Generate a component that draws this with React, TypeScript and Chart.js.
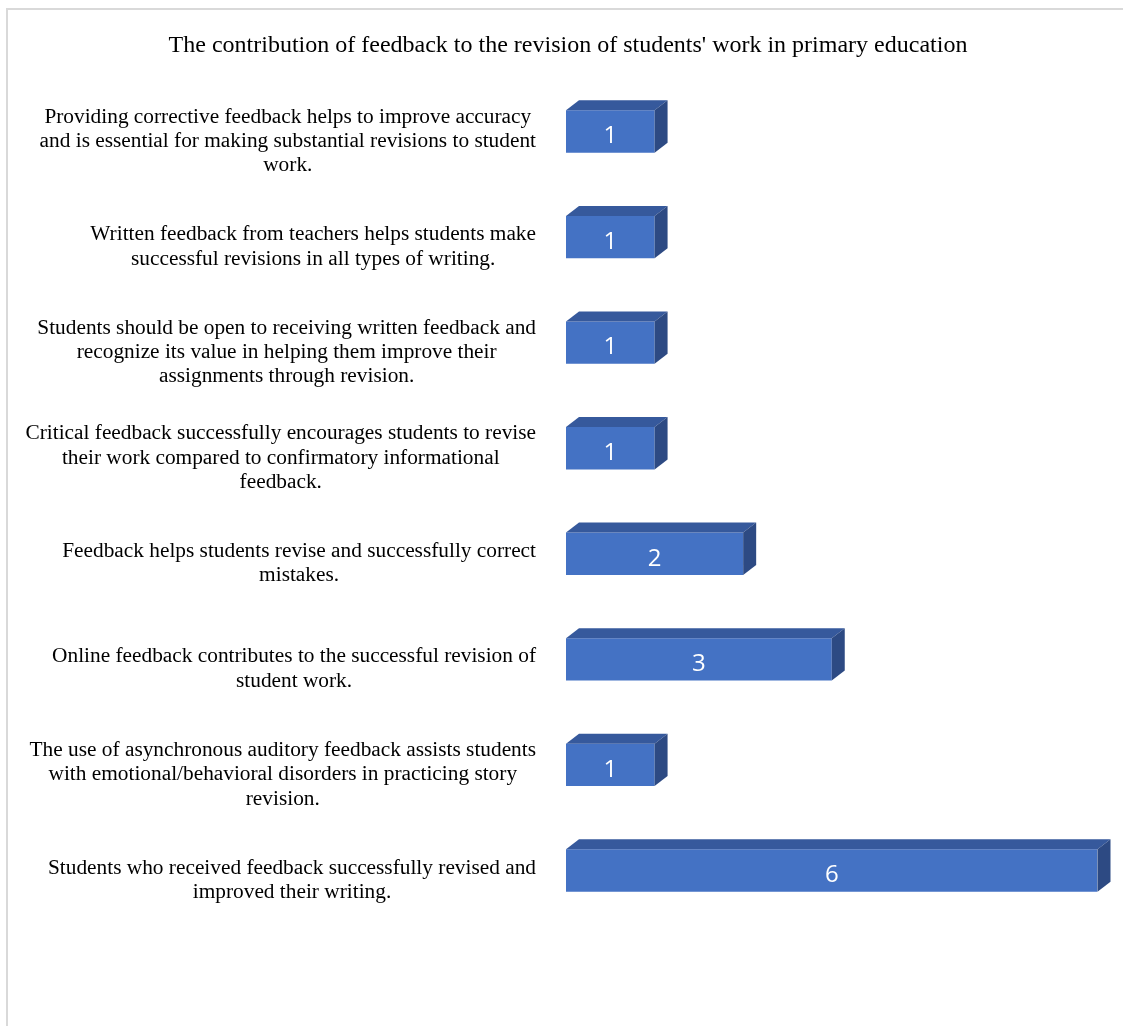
import React, { useEffect, useRef } from "react";
import { Chart, registerables } from "chart.js";

Chart.register(...registerables);

const TITLE = "The contribution of feedback to the revision of students' work in primary education";

const categories: string[][] = [
  ["Providing corrective feedback helps to improve accuracy", "and is essential for making substantial revisions to student", "work."],
  ["Written feedback from teachers helps students make", "successful revisions in all types of writing."],
  ["Students should be open to receiving written feedback and", "recognize its value in helping them improve their", "assignments through revision."],
  ["Critical feedback successfully encourages students to revise", "their work compared to confirmatory informational", "feedback."],
  ["Feedback helps students revise and successfully correct", "mistakes."],
  ["Online feedback contributes to the successful revision of", "student work."],
  ["The use of asynchronous auditory feedback assists students", "with emotional/behavioral disorders in practicing story", "revision."],
  ["Students who received feedback successfully revised and", "improved their writing."],
];

const values: number[] = [1, 1, 1, 1, 2, 3, 1, 6];

const FRONT = "#4472C4";
const TOP = "#36599C";
const SIDE = "#2D4A83";
const DX = 13;
const DY = 10;

const serif = "'Liberation Serif', 'Times New Roman', serif";

const bar3dPlugin = {
  id: "bar3d",
  afterDatasetsDraw(chart: any) {
    const ctx = chart.ctx;
    const meta = chart.getDatasetMeta(0);
    ctx.save();
    meta.data.forEach((bar: any, i: number) => {
      const { x, y, base, height } = bar.getProps(["x", "y", "base", "height"], true);
      const top = y - height / 2;
      const bottom = y + height / 2;
      // top face
      ctx.fillStyle = TOP;
      ctx.beginPath();
      ctx.moveTo(base, top);
      ctx.lineTo(base + DX, top - DY);
      ctx.lineTo(x + DX, top - DY);
      ctx.lineTo(x, top);
      ctx.closePath();
      ctx.fill();
      // side face
      ctx.fillStyle = SIDE;
      ctx.beginPath();
      ctx.moveTo(x, top);
      ctx.lineTo(x + DX, top - DY);
      ctx.lineTo(x + DX, bottom - DY);
      ctx.lineTo(x, bottom);
      ctx.closePath();
      ctx.fill();
      // value label
      ctx.fillStyle = "#ffffff";
      ctx.font = "24px 'Open Sans', sans-serif";
      ctx.textAlign = "center";
      ctx.textBaseline = "alphabetic";
      ctx.fillText(String(values[i]), (base + x) / 2, y + 11.8);
    });
    ctx.restore();
  },
  afterDraw(chart: any) {
    const ctx = chart.ctx;
    const yScale = chart.scales.y;
    ctx.save();
    // title
    ctx.fillStyle = "#000000";
    ctx.font = "24px " + serif;
    ctx.textAlign = "center";
    ctx.textBaseline = "alphabetic";
    ctx.fillText(TITLE, 568, 52);
    // category labels
    ctx.font = "21.33px " + serif;
    const lineH = 24.3;
    const rightEdge = 536;
    categories.forEach((lines, i) => {
      const cy = yScale.getPixelForValue(i);
      const w = Math.max(...lines.map((l) => ctx.measureText(l).width));
      const cx = rightEdge - w / 2;
      const startY = cy + 15.3 - ((lines.length - 1) * lineH) / 2;
      ctx.textAlign = "center";
      ctx.textBaseline = "alphabetic";
      lines.forEach((l, j) => {
        ctx.fillText(l, cx, startY + j * lineH);
      });
    });
    ctx.restore();
  },
};

export default function App() {
  const ref = useRef<HTMLCanvasElement | null>(null);
  useEffect(() => {
    if (!ref.current) return;
    const chart = new Chart(ref.current, {
      type: "bar",
      data: {
        labels: categories.map((c) => c.join(" ")),
        datasets: [
          {
            data: values,
            backgroundColor: FRONT,
            borderWidth: 0,
            categoryPercentage: 1,
            barPercentage: 0.401,
          },
        ],
      },
      options: {
        indexAxis: "y",
        animation: false,
        responsive: false,
        maintainAspectRatio: false,
        layout: { padding: { left: 566, right: 25.5, top: 78.75, bottom: 102.75 } },
        plugins: {
          legend: { display: false },
          title: { display: false },
          tooltip: { enabled: false },
        },
        scales: {
          x: { display: false, min: 0, max: 6 },
          y: { display: false },
        },
      },
      plugins: [bar3dPlugin],
    });
    return () => chart.destroy();
  }, []);
  return (
    <div style={{ position: "absolute", left: 0, top: 0, width: 1123, height: 1026, overflow: "hidden", background: "#fff" }}>
      <div
        style={{
          position: "absolute",
          left: 6,
          top: 8,
          width: 1200,
          height: 1100,
          border: "2px solid #d9d9d9",
          boxSizing: "border-box",
        }}
      />
      <canvas ref={ref} width={1123} height={1026} style={{ position: "absolute", left: 0, top: 0, width: 1123, height: 1026 }} />
    </div>
  );
}
